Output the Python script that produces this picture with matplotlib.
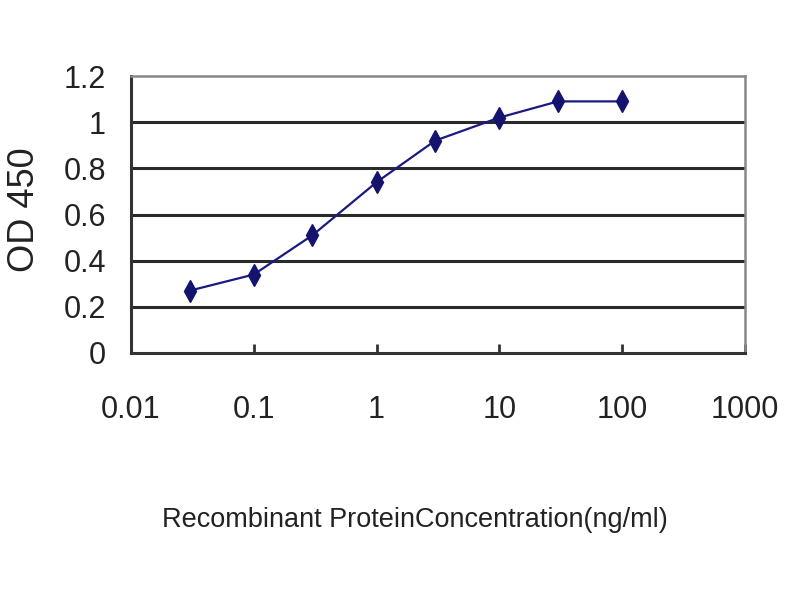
import matplotlib
matplotlib.use("Agg")
import matplotlib.pyplot as plt

conc = [0.03, 0.1, 0.3, 1, 3, 10, 30, 100]
od450 = [0.27, 0.34, 0.51, 0.74, 0.92, 1.02, 1.09, 1.09]
xticks = [0.01, 0.1, 1, 10, 100, 1000]
xtick_labels = ["0.01", "0.1", "1", "10", "100", "1000"]
yticks = [0, 0.2, 0.4, 0.6, 0.8, 1.0, 1.2]
ytick_labels = ["0", "0.2", "0.4", "0.6", "0.8", "1", "1.2"]

plt.rcParams['font.family'] = ["Liberation Sans", "DejaVu Sans"]

fig = plt.figure(figsize=(8, 6), dpi=100)
ax = fig.add_axes([131/800, 1-353/600, (745-131)/800, (353-76)/600])

for y in yticks[1:-1]:
    ax.axhline(y, color="#2a2a2a", lw=2.2, zorder=1)

ax.plot(conc, od450, color="#1a1a80", lw=1.6, marker="d", markersize=11,
        markerfacecolor="#14146e", markeredgecolor="#14146e", zorder=3)

ax.set_xscale("log")
ax.set_xlim(0.01, 1000)
ax.set_ylim(0, 1.2)
ax.set_xticks(xticks)
ax.set_xticklabels(xtick_labels)
ax.minorticks_off()
ax.set_yticks(yticks)
ax.set_yticklabels(ytick_labels)

ax.tick_params(axis="x", direction="in", length=6.5, width=2, colors="#333333",
               labelsize=22, labelcolor="#222222", pad=30)
ax.tick_params(axis="y", direction="out", length=0, labelsize=22,
               labelcolor="#222222", pad=18)

for s in ["left", "bottom"]:
    ax.spines[s].set_color("#333333")
    ax.spines[s].set_linewidth(2.2)
for s in ["top", "right"]:
    ax.spines[s].set_color("#888888")
    ax.spines[s].set_linewidth(1.8)

fig.text(25/800, 1-210/600, "OD 450", rotation=90, ha="center", va="center",
         fontsize=26, color="#222222")
fig.text(415/800, 1-520/600, "Recombinant ProteinConcentration(ng/ml)",
         ha="center", va="center", fontsize=19.5, color="#222222")

fig.savefig("out.png", dpi=100)
